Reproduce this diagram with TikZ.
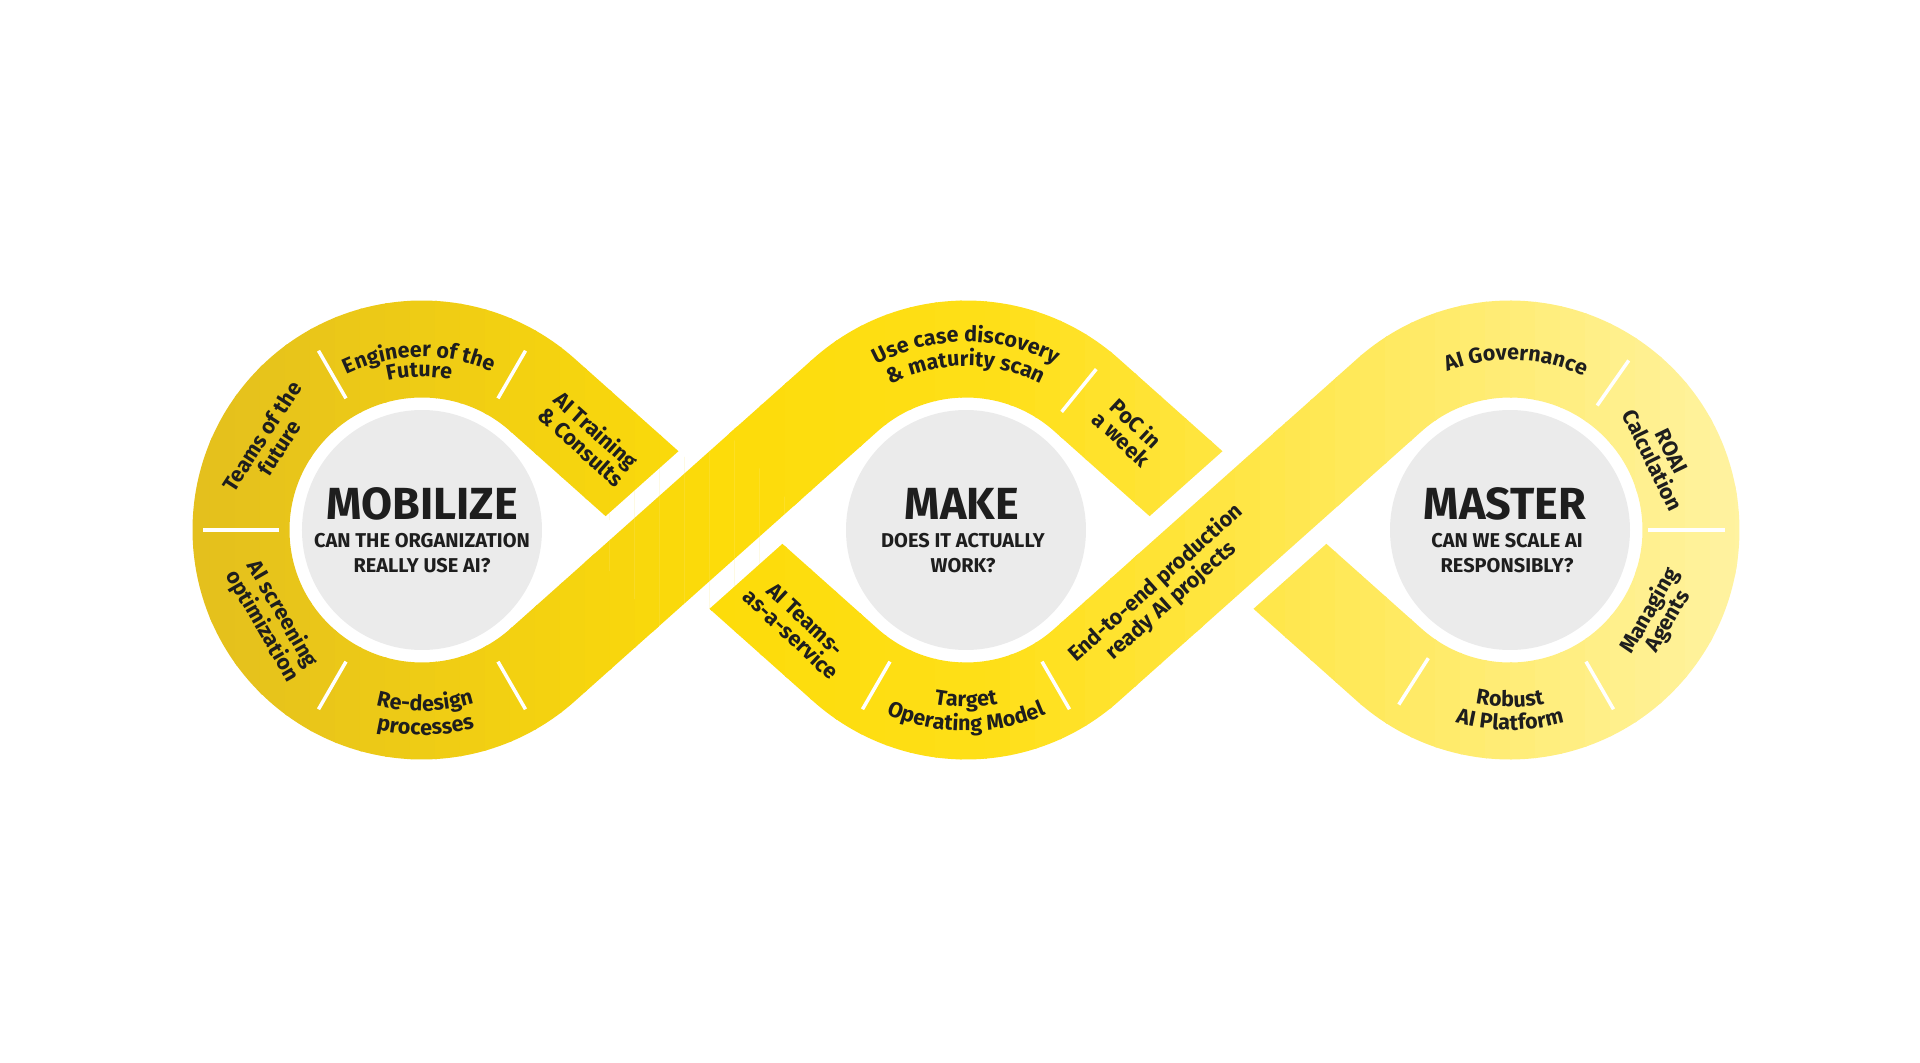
\documentclass[tikz,border=0pt]{standalone}
\usepackage{fontspec}
\setmainfont{Fira Sans}
\usetikzlibrary{decorations.text}
\definecolor{hubgray}{HTML}{EBEBEB}
\definecolor{ink}{HTML}{1E1E1E}
\newcommand\lblfont{\bfseries\fontsize{21.5}{21}\selectfont}
\begin{document}
\begin{tikzpicture}[x=1pt,y=1pt,
    band/.style={draw=bandc, line width=97},
    gap/.style={draw=white, line width=138},
    sep/.style={draw=white, line width=3.5},
    hub/.style={circle, fill=hubgray, minimum size=240, inner sep=0},
    head/.style={font=\bfseries\fontsize{45}{45}\selectfont, text=ink, inner sep=0},
    sub/.style={font=\bfseries\fontsize{20}{25}\selectfont, align=center, text=ink, inner sep=0},
    lbl/.style={font=\lblfont, align=center, text=ink, inner sep=0},
    arcline/.style={decorate, decoration={text along path, text align=center, text color=ink, text={|\lblfont|#1}}}]
    \useasboundingbox (-966,-533) rectangle (954,530);
    \coordinate (cL) at (-544,0);
    \coordinate (cM) at (0,0);
    \coordinate (cR) at (544,0);
    % tangent points of the band on the three loops
    \path (cL) ++(48.284:181) coordinate (Ltop) (cL) ++(-48.284:181) coordinate (Lbot)
          (cM) ++(131.716:181) coordinate (Mtl) (cM) ++(-48.284:181) coordinate (Mbr)
          (cR) ++(228.284:181) coordinate (Rbl);
    % band, drawn in thin strips for the colour ramp
    \foreach \i in {0,...,63}{
        \pgfmathsetmacro\xa{185+25*\i}
        \pgfmathsetmacro\sa{max(0,\xa+12.5-195)/525}
        \pgfmathsetmacro\sb{(\xa+12.5-720)/280}
        \pgfmathsetmacro\sc{min(1,max(0,\xa+12.5-1000)/730)}
        \pgfmathtruncatemacro\cr{\sb<0 ? 228+25*\sa : (\sc<=0 ? 253+2*\sb : 255)}
        \pgfmathtruncatemacro\cg{\sb<0 ? 192+28*\sa : (\sc<=0 ? 220+4*\sb : 224+19*\sc)}
        \pgfmathtruncatemacro\cb{\sb<0 ? 30-20*\sa : (\sc<=0 ? 10+15*\sb : 25+135*\sc)}
        \definecolor{bandc}{RGB}{\cr,\cg,\cb}
        \begin{scope}
            \clip (\xa-966,-260) rectangle (\xa-939,260);
            \draw[band] (Lbot) -- (Mtl) arc[start angle=131.716, end angle=48.284, radius=181]
                -- (Rbl) arc[start angle=228.284, end angle=491.716, radius=181]
                -- (Mbr) arc[start angle=311.716, end angle=228.284, radius=181]
                -- (Ltop) arc[start angle=48.284, end angle=311.716, radius=181] -- cycle;
            \draw[gap] (-339.19,-59.89) -- (-204.81,59.89) (204.81,-59.89) -- (339.19,59.89);
            \draw[band] (-346.66,-66.55) -- (-197.34,66.55) (197.34,-66.55) -- (346.66,66.55);
        \end{scope}
    }
    % separators
    \foreach \a in {60,120,240,300} \draw[sep] ([shift={(\a:152)}]cL) -- ([shift={(\a:207)}]cL);
    \draw[sep] ([shift={(180:143)}]cL) -- ([shift={(180:219)}]cL);
    \foreach \a in {51,240,300} \draw[sep] ([shift={(\a:152)}]cM) -- ([shift={(\a:207)}]cM);
    \foreach \a in {55,237.5,300} \draw[sep] ([shift={(\a:152)}]cR) -- ([shift={(\a:207)}]cR);
    \draw[sep] ([shift={(0:138)}]cR) -- ([shift={(0:215)}]cR);
    % hubs
    \node[hub] (mobilize) at (cL) {};
    \node[hub] (make) at (cM) {};
    \node[hub] (master) at (cR) {};
    \node[head] (mobT) at ([yshift=26]cL) {MOBILIZE};
    \node[sub] (mobQ) at ([yshift=-23.5]cL) {CAN THE ORGANIZATION\\REALLY USE AI?};
    \node[head] (makeT) at ([shift={(-4,26)}]cM) {MAKE};
    \node[sub] (makeQ) at ([shift={(-3,-23.5)}]cM) {DOES IT ACTUALLY\\WORK?};
    \node[head] (masT) at ([shift={(-5,26)}]cR) {MASTER};
    \node[sub] (masQ) at ([shift={(-3,-23.5)}]cR) {CAN WE SCALE AI\\RESPONSIBLY?};
    % labels, left loop
    \node[lbl, rotate=57] (teams) at ([shift={(-151.5,88)}]cL) {Teams of the\\future};
    \path[arcline={Engineer of the}] ([shift={(151:173)}]cL) arc[start angle=151, end angle=31, radius=173];
    \path[arcline={Future}] ([shift={(151:153)}]cL) arc[start angle=151, end angle=31, radius=153];
    \node[lbl, rotate=-41.7] (training) at ([shift={(167,92)}]cL) {AI Training\\\& Consults};
    \node[lbl, rotate=-60] (screening) at ([shift={(211:175)}]cL) {AI screening\\optimization};
    \path[arcline={Re-design}] ([shift={(211:181)}]cL) arc[start angle=211, end angle=331, radius=181];
    \path[arcline={processes}] ([shift={(211:205)}]cL) arc[start angle=211, end angle=331, radius=205];
    % labels, middle loop
    \path[arcline={Use case discovery}] ([shift={(150:188)}]cM) arc[start angle=150, end angle=30, radius=188];
    \path[arcline={{\&} maturity scan}] ([shift={(150:164)}]cM) arc[start angle=150, end angle=30, radius=164];
    \node[lbl, rotate=-43] (poc) at ([shift={(31.3:190.7)}]cM) {PoC in\\a week};
    \node[lbl, rotate=-43] (aiteams) at ([shift={(210:194)}]cM) {AI Teams-\\as-a-service};
    \path[arcline={Target}] ([shift={(210:177)}]cM) arc[start angle=210, end angle=330, radius=177];
    \path[arcline={Operating Model}] ([shift={(210:201)}]cM) arc[start angle=210, end angle=330, radius=201];
    \node[lbl, rotate=41.7] (endtoend) at ([shift={(197.5,-62)}]cM) {End-to-end production\\ready AI projects};
    % labels, right loop
    \path[arcline={AI Governance}] ([shift={(148:170)}]cR) arc[start angle=148, end angle=28, radius=170];
    \node[lbl, rotate=-64] (roai) at ([shift={(26:169)}]cR) {ROAI\\Calculation};
    \node[lbl, rotate=60] (agents) at ([shift={(-30:172)}]cR) {Managing\\Agents};
    \path[arcline={Robust}] ([shift={(210:177)}]cR) arc[start angle=210, end angle=330, radius=177];
    \path[arcline={AI Platform}] ([shift={(210:200)}]cR) arc[start angle=210, end angle=330, radius=200];
\end{tikzpicture}
\end{document}
